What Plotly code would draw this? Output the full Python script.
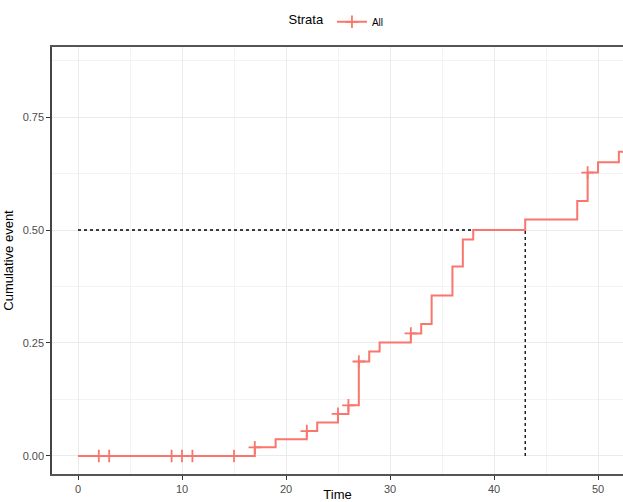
import plotly.graph_objects as go

# Step curve (event times and cumulative event probability)
event_times = [0, 17, 19, 22, 23, 25, 26, 27, 28, 29, 32, 33, 34, 36, 37, 38, 43, 48, 49, 50, 52, 55]
cum_event = [0, 0.019, 0.037, 0.055, 0.074, 0.093, 0.112, 0.209, 0.231, 0.251, 0.271, 0.292,
             0.355, 0.419, 0.479, 0.500, 0.523, 0.564, 0.627, 0.650, 0.673, 0.673]

# Censoring marks
censor_times = [2, 3, 9, 10, 11, 15, 17, 22, 25, 26, 27, 32, 49]
censor_vals = [0, 0, 0, 0, 0, 0, 0.019, 0.055, 0.093, 0.112, 0.209, 0.271, 0.627]

median_time = 43
median_level = 0.5

x_ticks = [0, 10, 20, 30, 40, 50]
y_ticks = [0.0, 0.25, 0.5, 0.75]
y_tick_labels = ["0.00", "0.25", "0.50", "0.75"]

RED = "#F8766D"
FONT = "Liberation Sans, Arial, sans-serif"

fig = go.Figure()

# median dashed lines
dash_style = dict(color="black", dash="3px,3px", width=1.3)
fig.add_trace(go.Scatter(x=[0, median_time], y=[median_level, median_level], mode="lines",
                         line=dash_style, showlegend=False, hoverinfo="skip"))
fig.add_trace(go.Scatter(x=[median_time, median_time], y=[0, median_level], mode="lines",
                         line=dash_style, showlegend=False, hoverinfo="skip"))

fig.add_trace(go.Scatter(x=event_times, y=cum_event, mode="lines", line_shape="hv",
                         line=dict(color=RED, width=2), showlegend=False))
fig.add_trace(go.Scatter(x=censor_times, y=censor_vals, mode="markers",
                         marker=dict(symbol="cross-thin", size=9, line=dict(color=RED, width=1.8)),
                         showlegend=False))
# legend entry
fig.add_trace(go.Scatter(x=[None], y=[None], mode="lines+markers", name="All",
                         line=dict(color=RED, width=2),
                         marker=dict(symbol="cross-thin", size=9, line=dict(color=RED, width=1.8))))

fig.update_layout(
    width=623, height=502,
    margin=dict(l=52, r=0, t=47, b=28),
    paper_bgcolor="white", plot_bgcolor="white",
    font=dict(family=FONT, color="#4d4d4d", size=11),
    legend=dict(orientation="h", x=0.5, xanchor="center", y=1.093, yanchor="top",
                title=dict(text="Strata", font=dict(size=13, color="black")),
                font=dict(size=10, color="black"), itemwidth=30),
    xaxis=dict(range=[-2.5, 52.4], tickvals=x_ticks, showgrid=True, gridcolor="#ebebeb", gridwidth=1,
               minor=dict(dtick=5, tick0=0, showgrid=True, gridcolor="#f3f3f3", gridwidth=0.7),
               zeroline=False, showline=True, linecolor="#555", linewidth=1.5, mirror=True,
               ticks="outside", ticklen=4, tickcolor="#333", tickwidth=1,
               tickfont=dict(size=11, color="#4d4d4d"),
               title=dict(text="Time", font=dict(size=13, color="black"), standoff=11),
               automargin=False),
    yaxis=dict(range=[-0.04, 0.905], tickvals=y_ticks, ticktext=y_tick_labels,
               showgrid=True, gridcolor="#ebebeb", gridwidth=1,
               minor=dict(dtick=0.125, tick0=0, showgrid=True, gridcolor="#f3f3f3", gridwidth=0.7),
               zeroline=False, showline=True, linecolor="#444", linewidth=1.5, mirror=False,
               ticks="outside", ticklen=4, tickcolor="#333", tickwidth=1,
               tickfont=dict(size=11, color="#4d4d4d"),
               title=dict(text="Cumulative event", font=dict(size=13, color="black"), standoff=6),
               automargin=False),
)

fig.write_html("out.html", config={"displayModeBar": False},
               post_script="document.body.style.margin='0';")
